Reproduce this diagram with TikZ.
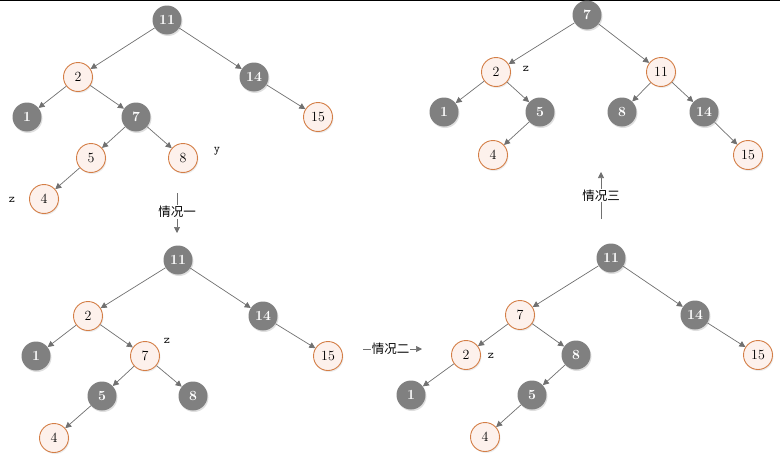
\documentclass[tikz,border=0pt]{standalone}
\usepackage{fontspec}
\newfontfamily\cjk{Noto Sans CJK SC}
\usetikzlibrary{arrows.meta,shadows}
\definecolor{bnfill}{RGB}{128,128,128}
\definecolor{rnfill}{RGB}{253,241,236}
\definecolor{rndraw}{RGB}{212,126,70}
\definecolor{edgegray}{RGB}{112,112,112}
\tikzset{
  nd/.style   ={circle, minimum size=29pt, inner sep=0pt,
                font=\fontsize{14}{14}\selectfont},
  bn/.style   ={nd, fill=bnfill, text=white, font=\fontsize{14}{14}\selectfont\bfseries,
                drop shadow={opacity=0.25, shadow xshift=1pt, shadow yshift=-1.5pt}},
  rn/.style   ={nd, fill=rnfill, draw=rndraw, line width=0.9pt,
                drop shadow={opacity=0.15, shadow xshift=1pt, shadow yshift=-1.5pt}},
  fl/.style   ={-{Triangle[length=6pt,width=6pt]}, draw=edgegray, line width=0.7pt},
  tag/.style  ={font=\ttfamily\fontsize{12}{12}\selectfont, inner sep=0pt},
  case/.style ={font=\cjk\fontsize{12.5}{13}\selectfont, fill=white, inner sep=1pt},
}

\begin{document}
\begin{tikzpicture}[x=1pt,y=-1pt]
  \useasboundingbox (0,0) rectangle (780,458);
  \draw[line width=1.2pt] (0,0.6) -- (780,0.6);

  % ---------------- tree A: top left -----------------
  \node[bn] (A-11) at (167,20)  {11};
  \node[rn] (A-2)  at (78,77)   {2};
  \node[bn] (A-14) at (254,77)  {14};
  \node[bn] (A-1)  at (27,117)  {1};
  \node[bn] (A-7)  at (136,117) {7};
  \node[rn] (A-15) at (318,117) {15};
  \node[rn] (A-5)  at (91,158)  {5};
  \node[rn] (A-8)  at (183,158) {8};
  \node[rn] (A-4)  at (44,199)  {4};
  \node[tag] (A-y) at (217,151) {y};
  \node[tag] (A-z) at (12,200)  {z};

  % ---------------- tree B: bottom left -----------------
  \node[bn] (B-11) at (178,260) {11};
  \node[rn] (B-2)  at (88,316)  {2};
  \node[bn] (B-14) at (263,316) {14};
  \node[bn] (B-1)  at (36,356)  {1};
  \node[rn] (B-7)  at (145,356) {7};
  \node[rn] (B-15) at (328,356) {15};
  \node[bn] (B-5)  at (102,396) {5};
  \node[bn] (B-8)  at (193,396) {8};
  \node[rn] (B-4)  at (54,438)  {4};
  \node[tag] (B-z) at (167,341) {z};

  % ---------------- tree C: bottom right -----------------
  \node[bn] (C-11) at (611,258) {11};
  \node[rn] (C-7)  at (520,315) {7};
  \node[bn] (C-14) at (695,315) {14};
  \node[rn] (C-2)  at (466,355) {2};
  \node[bn] (C-8)  at (576,355) {8};
  \node[rn] (C-15) at (758,355) {15};
  \node[bn] (C-1)  at (411,395) {1};
  \node[bn] (C-5)  at (532,395) {5};
  \node[rn] (C-4)  at (485,437) {4};
  \node[tag] (C-z) at (491,356) {z};

  % ---------------- tree D: top right -----------------
  \node[bn] (D-7)  at (587,15)  {7};
  \node[rn] (D-2)  at (496,72)  {2};
  \node[rn] (D-11) at (661,72)  {11};
  \node[bn] (D-1)  at (444,112) {1};
  \node[bn] (D-5)  at (540,112) {5};
  \node[bn] (D-8)  at (622,112) {8};
  \node[bn] (D-14) at (704,112) {14};
  \node[rn] (D-4)  at (493,155) {4};
  \node[rn] (D-15) at (748,155) {15};
  \node[tag] (D-z) at (526,69)  {z};

  % ---- edges ----
  \foreach \t in {A,B} {
    \foreach \p/\c in {11/2,11/14,2/1,2/7,14/15,7/5,7/8,5/4}
      \draw[fl] (\t-\p) -- (\t-\c);
  }
  \foreach \p/\c in {11/7,11/14,7/2,7/8,14/15,2/1,8/5,5/4}
    \draw[fl] (C-\p) -- (C-\c);
  \foreach \p/\c in {7/2,7/11,2/1,2/5,11/8,11/14,5/4,14/15}
    \draw[fl] (D-\p) -- (D-\c);

  % ---- case arrows ----
  \coordinate (c1s) at (177,193); \coordinate (c1e) at (177,233);
  \coordinate (c2s) at (363,349); \coordinate (c2e) at (422,349);
  \coordinate (c3s) at (601,219); \coordinate (c3e) at (601,172);
  \draw[fl] (c1s) -- node[case, pos=0.48] (case1) {情况一} (c1e);
  \draw[fl] (c2s) -- node[case, pos=0.47] (case2) {情况二} (c2e);
  \draw[fl] (c3s) -- node[case, pos=0.5] (case3) {情况三} (c3e);
\end{tikzpicture}
\end{document}
